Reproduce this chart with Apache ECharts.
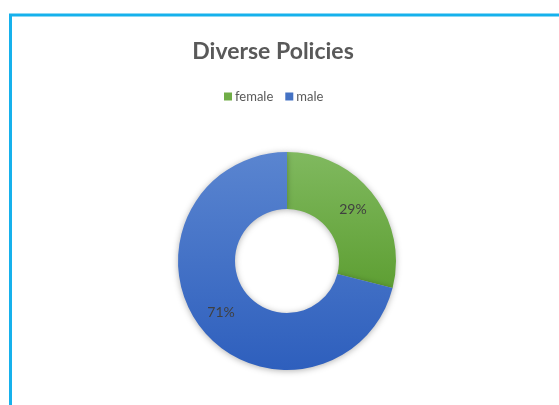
<!DOCTYPE html>
<html><head><meta charset="utf-8">
<script src="https://cdn.jsdelivr.net/npm/echarts@6/dist/echarts.min.js"></script>
<style>html,body{margin:0;padding:0;background:#fff}#c{width:559px;height:405px}</style>
</head><body><div id="c"></div>
<script>
var title = 'Diverse Policies';
var categories = ['female', 'male'];
var values = [29, 71];

var colorsTop = ['#80b95f', '#5a85d0'];
var colorsBottom = ['#5e9f33', '#2e5fbd'];
var legendColors = ['#70ad47', '#4472c4'];

var chart = echarts.init(document.getElementById('c'), null, {renderer: 'canvas'});
var data = categories.map(function (c, i) {
  return {
    name: c, value: values[i],
    itemStyle: {
      color: new echarts.graphic.LinearGradient(0, 0, 0, 1, [
        {offset: 0, color: colorsTop[i]}, {offset: 1, color: colorsBottom[i]}
      ], false)
    }
  };
});
chart.setOption({
  animation: false,
  backgroundColor: '#ffffff',
  title: {
    text: title, left: 268, top: 35, textAlign: 'center',
    textStyle: {fontFamily: 'Lato', fontWeight: 'bold', fontSize: 23, color: '#595959'}
  },
  legend: {
    data: categories.map(function (c, i) { return {name: c, itemStyle: {color: legendColors[i]}}; }),
    left: 219, top: 85, icon: 'rect', itemWidth: 8, itemHeight: 8, itemGap: 12,
    textStyle: {fontFamily: 'Lato', fontSize: 13, color: '#595959', padding: [0, 0, 0, -2]}
  },
  graphic: [
    {type: 'line', shape: {x1: 9, y1: 15, x2: 560, y2: 15}, style: {stroke: '#16b1ec', lineWidth: 3}},
    {type: 'line', shape: {x1: 10.5, y1: 14, x2: 10.5, y2: 406}, style: {stroke: '#16b1ec', lineWidth: 3}}
  ],
  series: [{
    type: 'pie',
    center: [287, 261],
    radius: [52, 109],
    startAngle: 90,
    clockwise: true,
    data: data,
    label: {
      show: true, position: 'inside',
      formatter: function (p) { return Math.round(p.percent) + '%'; },
      fontFamily: 'Lato', fontSize: 14, color: '#404040'
    },
    labelLine: {show: false},
    itemStyle: {borderWidth: 0, shadowBlur: 6, shadowColor: 'rgba(0,0,0,0.3)', shadowOffsetY: 1},
    emphasis: {disabled: true}
  }]
});
</script></body></html>
